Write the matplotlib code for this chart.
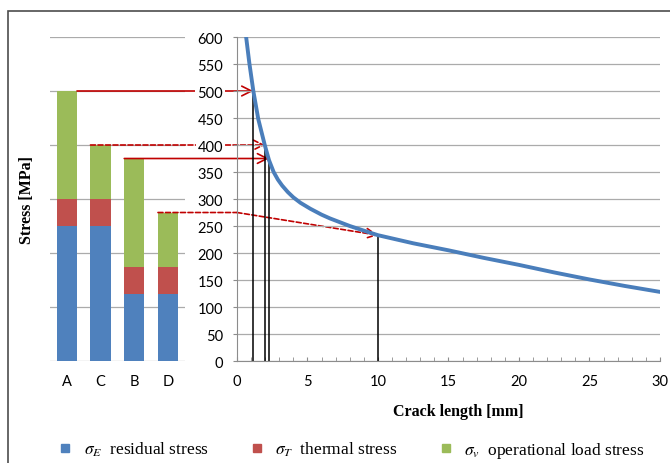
import matplotlib
matplotlib.use("Agg")
import matplotlib.pyplot as plt
from matplotlib.patches import ConnectionPatch, Rectangle
from matplotlib.lines import Line2D
from matplotlib.ticker import MultipleLocator

plt.rcParams["mathtext.fontset"] = "stix"

# stacked bars (load cases)
categories = ["A", "C", "B", "D"]
residual = [250, 250, 125, 125]
thermal = [50, 50, 50, 50]
operational = [200, 100, 200, 100]

# critical stress vs crack length curve
crack = [0.64, 0.87, 1.16, 1.51, 1.97, 2.27, 2.6, 2.9, 3.2, 3.6, 4.0, 4.5, 5.2,
         6.0, 6.6, 8.0, 9.4, 10, 12.5, 15, 17.5, 20, 22.5, 25, 27.5, 30]
stress = [602, 553, 500, 448, 400, 372, 350, 336, 325, 313, 303, 293, 282,
          271, 264, 250, 238, 233, 218, 205, 191, 178, 164, 151, 139, 128]

# where each load case hits the curve
hit_crack = [1.16, 1.99, 2.27, 10.0]
hit_stress = [500, 400, 375, 233]
dashed = [False, True, False, True]

c_res, c_th, c_op = "#4F81BD", "#C0504D", "#9BBB59"
grid_c = "#ABABAB"
arrow_c = "#C00000"
tick_font = "Lato"
serif = "Liberation Serif"

fig = plt.figure(figsize=(6.7, 4.64), dpi=100)

# outer frame (continues past right / bottom edge)
fig.add_artist(Rectangle((8 / 670, -0.2), 1.2, 1.2 - 12 / 464, transform=fig.transFigure,
                         fill=False, edgecolor="#4D4D4D", lw=1.2))

ax1 = fig.add_axes([0.0746, 0.2198, 0.2015, 0.6983])
ax2 = fig.add_axes([0.3537, 0.2198, 0.6313, 0.6983])
ax2.set_zorder(2)
ax2.patch.set_facecolor("none")

# --- bars ---
w = 0.6
x = list(range(len(categories)))
bottom2 = [r + t for r, t in zip(residual, thermal)]
totals = [b + o for b, o in zip(bottom2, operational)]
ax1.bar(x, residual, w, color=c_res, zorder=2)
ax1.bar(x, thermal, w, bottom=residual, color=c_th, zorder=2)
ax1.bar(x, operational, w, bottom=bottom2, color=c_op, zorder=2)
ax1.set_xlim(-0.5, 3.5)
ax1.set_ylim(0, 600)
ax1.set_yticks(range(0, 601, 100))
ax1.yaxis.grid(True, color=grid_c, lw=0.9)
ax1.set_axisbelow(True)
ax1.tick_params(axis="y", length=0, labelleft=False)
ax1.set_xticks(x, categories)
ax1.tick_params(axis="x", length=0, pad=9, labelsize=10.5)
for lab in ax1.get_xticklabels():
    lab.set_fontfamily(tick_font)
for s in ax1.spines.values():
    s.set_visible(False)

# --- curve ---
ax2.plot(crack, stress, color="#4A7EBB", lw=2.8, zorder=3, solid_joinstyle="round")
ax2.vlines(hit_crack, 0, hit_stress, color="black", lw=1.1, zorder=2)
ax2.set_xlim(0, 30)
ax2.set_ylim(0, 600)
ax2.set_yticks(range(0, 601, 50))
ax2.set_xticks(range(0, 31, 5))
ax2.xaxis.set_minor_locator(MultipleLocator(1))
ax2.yaxis.grid(True, color=grid_c, lw=0.9)
ax2.set_axisbelow(True)
for side in ["top", "right"]:
    ax2.spines[side].set_visible(False)
for side in ["left", "bottom"]:
    ax2.spines[side].set_color("#8C8C8C")
ax2.tick_params(axis="y", direction="out", length=3, color="#8C8C8C", pad=7, labelsize=10.5)
ax2.tick_params(axis="x", which="both", direction="in", length=3, color="#8C8C8C",
                pad=9, labelsize=10.5)
for lab in ax2.get_yticklabels():
    lab.set_fontfamily(tick_font)
    lab.set_bbox(dict(facecolor="white", edgecolor="none", pad=1.5))
for lab in ax2.get_xticklabels():
    lab.set_fontfamily(tick_font)

# --- arrows from bar tops to the curve ---
for i in range(len(categories)):
    ls = (0, (3, 1.5)) if dashed[i] else "-"
    x0 = x[i] + w / 2 if i == 0 else x[i] - w / 2
    if totals[i] == hit_stress[i]:
        con = ConnectionPatch((x0, totals[i]), (hit_crack[i], hit_stress[i]),
                              coordsA=ax1.transData, coordsB=ax2.transData,
                              arrowstyle="->,head_length=0.7,head_width=0.35",
                              color=arrow_c, lw=1.2, linestyle=ls, zorder=1)
        fig.add_artist(con)
    else:
        seg = ConnectionPatch((x0, totals[i]), (0, totals[i]),
                              coordsA=ax1.transData, coordsB=ax2.transData,
                              arrowstyle="-", color=arrow_c, lw=1.2, linestyle=ls,
                              shrinkA=0, shrinkB=0, zorder=1)
        fig.add_artist(seg)
        con = ConnectionPatch((0, totals[i]), (hit_crack[i], hit_stress[i]),
                              coordsA=ax2.transData, coordsB=ax2.transData,
                              arrowstyle="->,head_length=0.7,head_width=0.35",
                              color=arrow_c, lw=1.2, linestyle=ls, shrinkA=0, zorder=1)
        fig.add_artist(con)

# --- labels ---
fig.text(0.040, 0.569, "Stress [MPa]", rotation=90, ha="center", va="center",
         fontfamily=serif, fontweight="bold", fontsize=11.5)
fig.text(0.684, 0.112, "Crack length [mm]", ha="center", va="center",
         fontfamily=serif, fontweight="bold", fontsize=11.5)

handles = [Line2D([], [], ls="none", marker="s", markersize=5.5, color=c)
           for c in (c_res, c_th, c_op)]
labels = [r"$\sigma_E$  residual stress", r"$\sigma_T$  thermal stress$\;\;$",
          r"$\sigma_v$  operational load stress"]
fig.legend(handles, labels, loc="center left", bbox_to_anchor=(61 / 670, 0.028),
           ncol=3, frameon=False, borderpad=0, borderaxespad=0, handlelength=0.5,
           handletextpad=0.8, columnspacing=2.55, prop={"family": serif, "size": 12.5})

fig.savefig("out.png", dpi=100)
